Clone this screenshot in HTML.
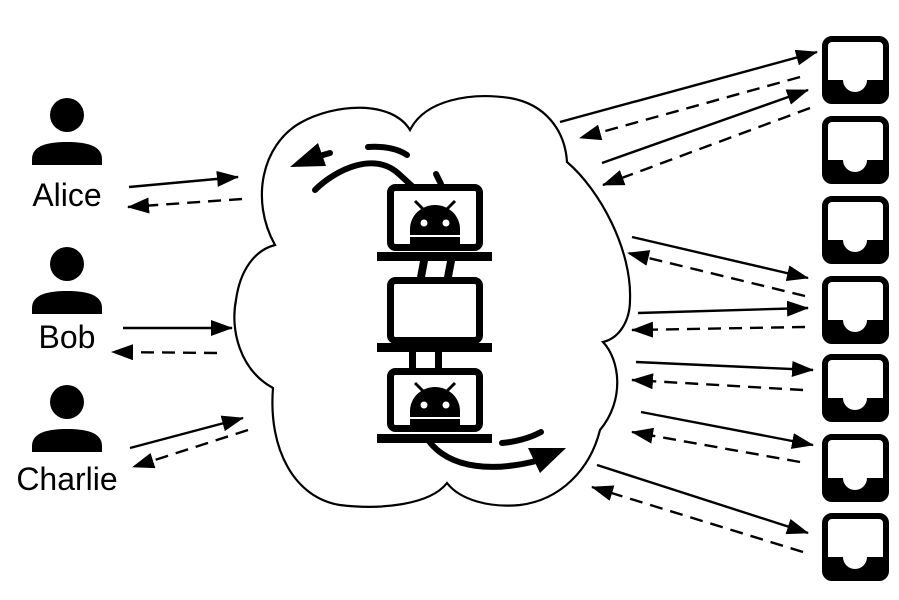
<!DOCTYPE html>
<html><head><meta charset="utf-8"><style>
html,body{margin:0;padding:0;background:#fff;}
svg{display:block;}
text{font-family:"Liberation Sans",sans-serif;font-size:32px;fill:#000;}
</style></head><body>
<svg width="899" height="600" viewBox="0 0 899 600" xmlns="http://www.w3.org/2000/svg">
<defs>
<marker id="ah" viewBox="0 0 22 16" refX="21" refY="8" markerWidth="22" markerHeight="16" markerUnits="userSpaceOnUse" orient="auto">
<path d="M0,0 L22,8 L0,16 z" fill="#000"/>
</marker>
<g id="person">
<circle cx="0" cy="0" r="17" fill="#000"/>
<path d="M-35,50 L-35,44 C-35,30 -18,27 0,27 C18,27 35,30 35,44 L35,50 z" fill="#000"/>
</g>
<g id="tray">
<rect x="3" y="3" width="61" height="62" rx="7" fill="#fff" stroke="#000" stroke-width="6"/>
<path d="M2,44 L21,44 A12,12 0 0 0 45,44 L65,44 L65,58 Q65,67 57,67 L10,67 Q2,67 2,58 z" fill="#000"/>
</g>
<g id="droid">
<path d="M-25,14 L-25,8 A25,24 0 0 1 25,8 L25,14 z" fill="#000"/>
<line x1="-20" y1="-20" x2="-11" y2="-11" stroke="#000" stroke-width="3"/>
<line x1="20" y1="-20" x2="11" y2="-11" stroke="#000" stroke-width="3"/>
<circle cx="-11" cy="2" r="3.5" fill="#fff"/>
<circle cx="11" cy="2" r="3.5" fill="#fff"/>
<rect x="-25" y="16" width="50" height="12" fill="#000"/>
</g>
</defs>

<!-- people -->
<use href="#person" x="67" y="115"/>
<use href="#person" x="67" y="264"/>
<use href="#person" x="67" y="402"/>
<text x="67" y="206" text-anchor="middle">Alice</text>
<text x="67" y="348" text-anchor="middle">Bob</text>
<text x="67" y="490" text-anchor="middle">Charlie</text>

<!-- cloud -->
<path d="M275,245 C250,200 262,145 300,123 C335,103 392,100 410,130 C425,100 470,92 510,98 C545,104 565,130 567,162
C600,190 632,250 630,300 C630,320 620,338 603,342 C620,360 625,400 600,430 C590,470 560,500 520,505 C490,508 460,500 447,483
C430,505 380,510 340,505 C295,498 268,450 273,388 C240,370 230,330 236,300 C240,270 255,250 275,245 z" fill="#fff" stroke="#000" stroke-width="2.2"/>

<g fill="none" stroke="#000" stroke-width="2.4">
<line x1="129" y1="187" x2="238" y2="177" marker-end="url(#ah)"/>
<line x1="242" y1="199" x2="128" y2="207" stroke-dasharray="13,8" marker-end="url(#ah)"/>
<line x1="123" y1="328" x2="232" y2="328" marker-end="url(#ah)"/>
<line x1="217" y1="353" x2="112" y2="352" stroke-dasharray="13,8" marker-end="url(#ah)"/>
<line x1="130" y1="448" x2="243" y2="418" marker-end="url(#ah)"/>
<line x1="248" y1="430" x2="133" y2="467" stroke-dasharray="13,8" marker-end="url(#ah)"/>
<line x1="560" y1="122" x2="817" y2="52" marker-end="url(#ah)"/>
<line x1="800" y1="77" x2="580" y2="138" stroke-dasharray="13,8" marker-end="url(#ah)"/>
<line x1="602" y1="163" x2="808" y2="90" marker-end="url(#ah)"/>
<line x1="810" y1="108" x2="603" y2="185" stroke-dasharray="13,8" marker-end="url(#ah)"/>
<line x1="632" y1="237" x2="808" y2="278" marker-end="url(#ah)"/>
<line x1="805" y1="296" x2="628" y2="253" stroke-dasharray="13,8" marker-end="url(#ah)"/>
<line x1="638" y1="313" x2="808" y2="308" marker-end="url(#ah)"/>
<line x1="805" y1="327" x2="632" y2="330" stroke-dasharray="13,8" marker-end="url(#ah)"/>
<line x1="636" y1="362" x2="813" y2="370" marker-end="url(#ah)"/>
<line x1="803" y1="390" x2="632" y2="380" stroke-dasharray="13,8" marker-end="url(#ah)"/>
<line x1="641" y1="412" x2="813" y2="445" marker-end="url(#ah)"/>
<line x1="800" y1="462" x2="632" y2="432" stroke-dasharray="13,8" marker-end="url(#ah)"/>
<line x1="597" y1="465" x2="808" y2="533" marker-end="url(#ah)"/>
<line x1="803" y1="552" x2="592" y2="487" stroke-dasharray="13,8" marker-end="url(#ah)"/>
</g>

<!-- trays -->
<use href="#tray" x="822" y="36"/>
<use href="#tray" x="822" y="116"/>
<use href="#tray" x="822" y="196"/>
<use href="#tray" x="822" y="276"/>
<use href="#tray" x="822" y="354"/>
<use href="#tray" x="822" y="434"/>
<use href="#tray" x="822" y="513"/>

<!-- curved arrows in cloud -->
<g fill="none" stroke="#000" stroke-width="6" stroke-linecap="round">
<path d="M315,190 C335,170 375,150 400,175 L412,186"/>
<path d="M323,155 L330,153"/>
<path d="M368,147 C385,146 398,149 407,155"/>
<path d="M436,174 L441,184"/>
<path d="M428,440 C450,470 495,472 540,460"/>
<path d="M502,443 C515,442 530,438 541,432"/>
</g>
<polygon points="290,167 318,143 326,166" fill="#000"/>
<polygon points="566,448 528,448 540,473" fill="#000"/>

<!-- device stack -->
<g fill="#fff" stroke="#000" stroke-width="7">
<rect x="390.5" y="187.5" width="89" height="60" rx="5"/>
<rect x="390.5" y="280.5" width="89" height="60" rx="5"/>
<rect x="390.5" y="371.5" width="89" height="57" rx="5"/>
</g>
<g fill="#000">
<rect x="377" y="252" width="115" height="9"/>
<rect x="377" y="343" width="115" height="9"/>
<rect x="377" y="434" width="115" height="9"/>
<polygon points="420,261 428,261 425,277 417,277"/>
<polygon points="447,261 455,261 452,277 444,277"/>
<rect x="409" y="352" width="7" height="16"/>
<rect x="435" y="352" width="7" height="16"/>
</g>
<use href="#droid" x="435" y="221"/>
<use href="#droid" x="435" y="403"/>
</svg>
</body></html>
